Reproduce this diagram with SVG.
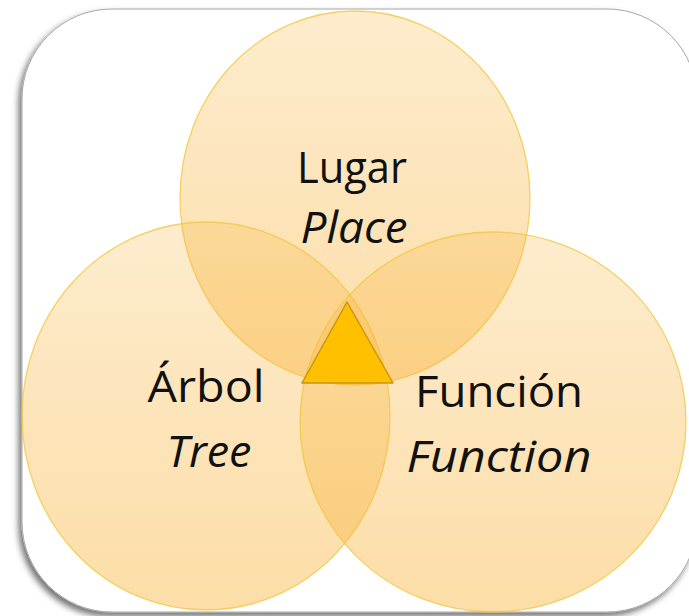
<svg xmlns="http://www.w3.org/2000/svg" width="689" height="616" viewBox="0 0 689 616">
  <style>
    .petal { stroke: #F0C53A; stroke-width: 1.3; stroke-opacity: 0.75; }
    .label { font-family: "Open Sans", Lato, "Liberation Sans", sans-serif; font-size: 44px; fill: #111111; text-anchor: middle; font-variant-ligatures: none; }
    .en { font-style: italic; }
  </style>
  <defs>
    <filter id="frameShadow" x="-5%" y="-5%" width="110%" height="110%">
      <feDropShadow dx="-3" dy="4" stdDeviation="3" flood-color="#000000" flood-opacity="0.55"/>
    </filter>
    <linearGradient id="petalFill" x1="0" y1="0" x2="0" y2="1">
      <stop offset="0" stop-color="#F9B640" stop-opacity="0.26"/>
      <stop offset="1" stop-color="#F9B640" stop-opacity="0.46"/>
    </linearGradient>
  </defs>

  <rect x="0" y="0" width="689" height="616" fill="#FFFFFF"/>

  <!-- rounded card behind the diagram -->
  <rect id="frame" x="22" y="9" width="675" height="603" rx="90" ry="90" fill="#FFFFFF" stroke="#A8A8A8" stroke-width="1" filter="url(#frameShadow)"/>

  <g id="node-lugar">
    <ellipse class="petal" cx="355" cy="198" rx="175" ry="187" fill="url(#petalFill)"/>
    <text class="label" x="352" y="183" textLength="110" lengthAdjust="spacingAndGlyphs">Lugar</text>
    <text class="label en" x="354" y="243" textLength="107" lengthAdjust="spacingAndGlyphs">Place</text>
  </g>

  <g id="node-arbol">
    <ellipse class="petal" cx="206" cy="416" rx="184" ry="194" fill="url(#petalFill)"/>
    <text class="label" x="206" y="402" textLength="117" lengthAdjust="spacingAndGlyphs">Árbol</text>
    <text class="label en" x="209" y="467" textLength="85" lengthAdjust="spacingAndGlyphs">Tree</text>
  </g>

  <g id="node-funcion">
    <ellipse class="petal" cx="493" cy="422" rx="193" ry="190" fill="url(#petalFill)"/>
    <text class="label" x="499" y="407" textLength="168" lengthAdjust="spacingAndGlyphs">Función</text>
    <text class="label en" x="499" y="472" textLength="185" lengthAdjust="spacingAndGlyphs">Function</text>
  </g>

  <g id="node-center">
    <polygon points="347,302 302,383 393,383" fill="#FFC000" stroke="#C9970A" stroke-width="1.5" stroke-linejoin="round"/>
  </g>
</svg>
